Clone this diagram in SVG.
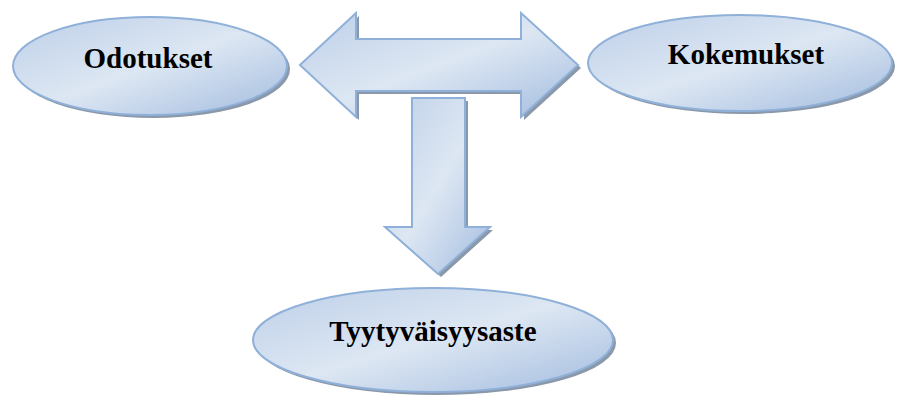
<svg xmlns="http://www.w3.org/2000/svg" xmlns:xlink="http://www.w3.org/1999/xlink" width="900" height="396" viewBox="0 0 900 396">
  <defs>
    <linearGradient id="fillGrad" x1="0" y1="0" x2="1" y2="1">
      <stop offset="0" stop-color="#bdcfe8"/>
      <stop offset="0.5" stop-color="#dde7f3"/>
      <stop offset="1" stop-color="#a3bcdf"/>
    </linearGradient>
    <filter id="soft" x="-10%" y="-10%" width="120%" height="120%">
      <feGaussianBlur stdDeviation="0.6"/>
    </filter>
    <!-- shape outlines shared by shadow and face -->
    <ellipse id="ellLeft" cx="150" cy="66" rx="137" ry="49"/>
    <ellipse id="ellRight" cx="740" cy="63" rx="152" ry="48"/>
    <ellipse id="ellBottom" cx="433" cy="340" rx="180" ry="52"/>
    <polygon id="dblArrow" points="300,65 356,13 356,39 521,39 521,13 578,65 521,117 521,91 356,91 356,117"/>
    <polygon id="downArrow" points="412,98 465,98 465,227 490,227 438,274 385,227 412,227"/>
  </defs>
  <style>
    .shadow { fill: #8a98aa; stroke: none; }
    .face { fill: url(#fillGrad); stroke: #8fb0d8; stroke-width: 2; }
    .label { font-family: "Liberation Serif", "Times New Roman", serif; font-weight: bold; font-size: 29px; fill: #000; text-anchor: middle; }
  </style>

  <g id="connectors">
    <g id="arrow-both">
      <use xlink:href="#dblArrow" class="shadow" transform="translate(3,3)" filter="url(#soft)"/>
      <use xlink:href="#dblArrow" class="face"/>
    </g>
    <g id="arrow-down">
      <use xlink:href="#downArrow" class="shadow" transform="translate(3,3)" filter="url(#soft)"/>
      <use xlink:href="#downArrow" class="face"/>
    </g>
  </g>

  <g id="node-odotukset">
    <use xlink:href="#ellLeft" class="shadow" transform="translate(3,3)" filter="url(#soft)"/>
    <use xlink:href="#ellLeft" class="face"/>
    <text class="label" x="148" y="68">Odotukset</text>
  </g>

  <g id="node-kokemukset">
    <use xlink:href="#ellRight" class="shadow" transform="translate(3,3)" filter="url(#soft)"/>
    <use xlink:href="#ellRight" class="face"/>
    <text class="label" x="746" y="64">Kokemukset</text>
  </g>

  <g id="node-tyytyvaisyysaste">
    <use xlink:href="#ellBottom" class="shadow" transform="translate(3,3)" filter="url(#soft)"/>
    <use xlink:href="#ellBottom" class="face"/>
    <text class="label" x="433" y="341">Tyytyväisyysaste</text>
  </g>
</svg>
